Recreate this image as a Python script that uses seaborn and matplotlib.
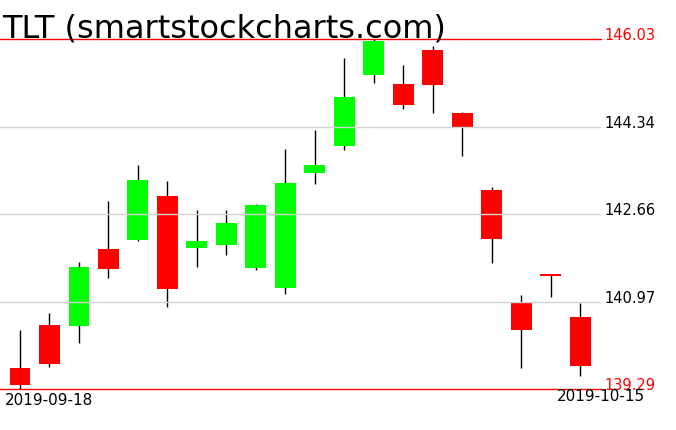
import numpy as np
import pandas as pd
import matplotlib
matplotlib.use('Agg')
import matplotlib.pyplot as plt
import seaborn as sns

# TLT daily candles
dates = ['2019-09-18', '2019-09-19', '2019-09-20', '2019-09-23', '2019-09-24',
         '2019-09-25', '2019-09-26', '2019-09-27', '2019-09-30', '2019-10-01',
         '2019-10-02', '2019-10-03', '2019-10-04', '2019-10-07', '2019-10-08',
         '2019-10-09', '2019-10-10', '2019-10-11', '2019-10-14', '2019-10-15']
opens = [139.69, 140.52, 140.50, 141.99, 142.16, 143.01, 142.01, 142.06, 141.62, 141.24,
         143.45, 143.97, 145.34, 145.16, 145.82, 144.61, 143.12, 140.97, 141.50, 140.68]
highs = [140.43, 140.75, 141.74, 142.91, 143.60, 143.30, 142.74, 142.74, 142.85, 143.91,
         144.28, 145.66, 146.03, 145.53, 145.90, 144.63, 143.18, 141.10, 141.50, 140.95]
lows = [139.29, 139.71, 140.18, 141.43, 142.14, 140.87, 141.64, 141.87, 141.58, 141.12,
        143.24, 143.89, 145.18, 144.68, 144.61, 143.78, 141.72, 139.69, 141.06, 139.54]
closes = [139.37, 139.77, 141.64, 141.60, 143.31, 141.22, 142.14, 142.49, 142.83, 143.26,
          143.60, 144.91, 146.00, 144.76, 145.14, 144.34, 142.18, 140.43, 141.46, 139.73]

grid_levels = [144.34, 142.66, 140.97]
range_levels = [146.03, 139.29]
title = 'TLT (smartstockcharts.com)'

df = pd.DataFrame({'date': dates, 'open': opens, 'high': highs,
                   'low': lows, 'close': closes})
df['x'] = np.arange(len(df))
df['up'] = df['close'] >= df['open']
df['bottom'] = df[['open', 'close']].min(axis=1)
df['height'] = (df['close'] - df['open']).abs()

sns.set_theme(style='white')
plt.rcParams['font.family'] = ['DejaVu Sans']
plt.rcParams['text.color'] = 'black'

fig = plt.figure(figsize=(6.76, 4.31), dpi=100)
ax = fig.add_axes([0, 41 / 431, 601 / 676, 350 / 431])

# wicks then bodies
ax.vlines(df['x'], df['low'], df['high'], color='black', lw=1.0, zorder=1)
colors = np.where(df['up'], '#00ff00', '#ff0000')
ax.bar(df['x'], df['height'], bottom=df['bottom'], width=0.71,
       color=colors, linewidth=0, zorder=2)

for lvl in grid_levels:
    ax.axhline(lvl, color='#d3d3d3', lw=1.0, zorder=3)
for lvl in range_levels:
    ax.axhline(lvl, color='#ff0000', lw=1.0, zorder=4, clip_on=False)

ax.set_xlim(-0.679, 19.71)
ax.set_ylim(min(range_levels), max(range_levels))
ax.set_axis_off()

tr = ax.get_yaxis_transform()
for lvl in grid_levels:
    ax.text(1.005, lvl, f'{lvl:.2f}', transform=tr, va='baseline', ha='left',
            fontsize=10.5, color='black', clip_on=False)
for lvl in range_levels:
    ax.text(1.005, lvl, f'{lvl:.2f}', transform=tr, va='baseline', ha='left',
            fontsize=10.5, color='#ff0000', clip_on=False)

fig.text(2 / 676, 1 - 37 / 431, title, fontsize=23, va='baseline', ha='left', color='black')
fig.text(5 / 676, 1 - 405 / 431, dates[0], fontsize=11, va='baseline', ha='left', color='black')
fig.text(645 / 676, 1 - 401 / 431, dates[-1], fontsize=11, va='baseline', ha='right', color='black')

fig.savefig('out.png', dpi=100)
